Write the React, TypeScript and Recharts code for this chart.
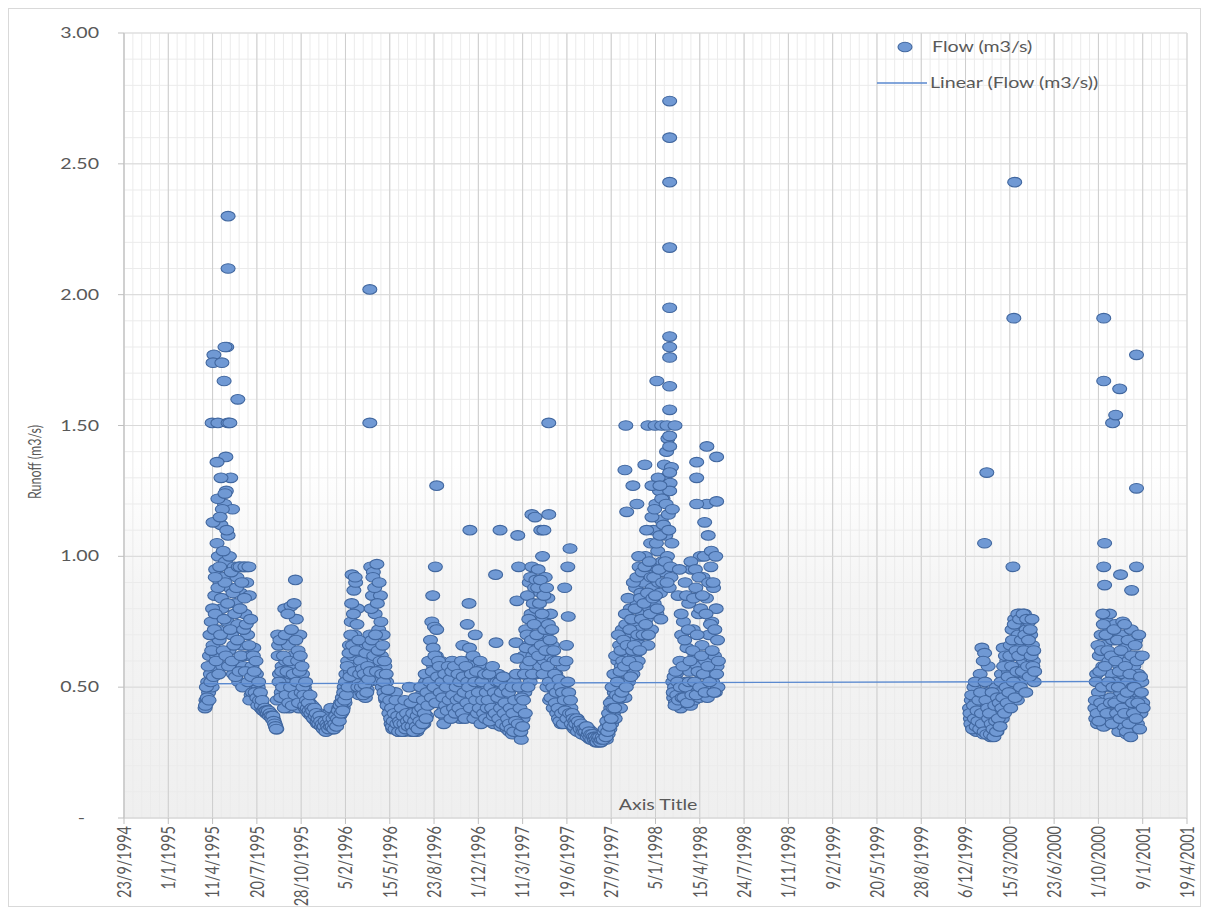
import React from 'react';
import { ScatterChart, Scatter, XAxis, YAxis, CartesianGrid } from 'recharts';

// Day numbers counted from 23/9/1994 (day 0). Two interleaved daily series (every 2nd day each).
const STEP_DAYS = 2;

// Segment 1: continuous record, late March 1995 to mid 1998
const seg1StartA = 183;
const seg1FlowA = [
  0.42, 0.45, 0.44, 0.52, 0.48, 0.62, 0.55, 0.75, 0.50, 0.66, 0.58,
  0.85, 0.95, 0.62, 0.72, 1.00, 0.68, 0.90, 1.12, 0.80, 0.58, 0.92,
  1.20, 0.98, 1.25, 0.75, 1.08, 0.64, 0.88, 1.30, 0.70, 1.18, 0.55,
  0.96, 0.82, 0.60, 0.92, 0.74, 0.52, 0.96, 0.86, 0.66, 0.96, 0.58,
  0.96, 0.78, 0.62, 0.90, 0.70, 0.50, 0.85, 0.62, 0.47, 0.58, 0.46,
  0.65, 0.52, 0.45, 0.55, 0.44, 0.50, 0.43, 0.46, 0.42, 0.44, 0.42,
  0.42, 0.41, 0.42, 0.40, 0.41, 0.40, 0.40, 0.39, 0.40, 0.39, 0.38,
  0.38, 0.37, 0.36, 0.35, 0.34, 0.70, 0.66, 0.55, 0.62, 0.48, 0.58,
  0.45, 0.52, 0.80, 0.60, 0.44, 0.50, 0.66, 0.42, 0.55, 0.81, 0.48,
  0.62, 0.43, 0.58, 0.91, 0.76, 0.50, 0.64, 0.42, 0.70, 0.52, 0.46,
  0.55, 0.44, 0.50, 0.42, 0.48, 0.41, 0.46, 0.40, 0.44, 0.42, 0.39,
  0.43, 0.40, 0.38, 0.41, 0.37, 0.39, 0.36, 0.38, 0.40, 0.36, 0.37,
  0.35, 0.37, 0.34, 0.36, 0.35, 0.38, 0.34, 0.36, 0.40, 0.37, 0.42,
  0.36, 0.34, 0.37, 0.35, 0.38, 0.36, 0.40, 0.37, 0.42, 0.39, 0.44,
  0.40, 0.46, 0.42, 0.50, 0.44, 0.55, 0.48, 0.60, 0.52, 0.66, 0.56,
  0.75, 0.93, 0.62, 0.87, 0.70, 0.90, 0.52, 0.80, 0.58, 0.47, 0.65,
  0.56, 0.48, 0.62, 0.50, 0.58, 0.46, 0.54, 0.49, 0.60, 0.52, 0.70,
  0.96, 0.60, 0.85, 0.94, 0.55, 0.78, 0.66, 0.97, 0.58, 0.72, 0.52,
  0.85, 0.62, 0.50, 0.70, 0.48, 0.58, 0.45, 0.52, 0.44, 0.47, 0.42,
  0.40, 0.36, 0.39, 0.34, 0.38, 0.35, 0.48, 0.37, 0.34, 0.36, 0.33,
  0.38, 0.35, 0.40, 0.34, 0.37, 0.33, 0.39, 0.36, 0.34, 0.38, 0.35,
  0.42, 0.36, 0.33, 0.39, 0.35, 0.41, 0.34, 0.37, 0.33, 0.38, 0.36,
  0.40, 0.35, 0.44, 0.38, 0.48, 0.36, 0.42, 0.52, 0.39, 0.46, 0.55,
  0.45, 0.60, 0.50, 0.75, 0.85, 0.58, 0.73, 0.96, 0.62, 0.48, 0.55,
  0.52, 0.44, 0.60, 0.40, 0.50, 0.56, 0.42, 0.47, 0.38, 0.54, 0.45,
  0.58, 0.41, 0.50, 0.44, 0.60, 0.39, 0.48, 0.55, 0.42, 0.52, 0.40,
  0.46, 0.57, 0.38, 0.50, 0.44, 0.66, 0.42, 0.55, 0.40, 0.48, 0.74,
  0.60, 0.82, 0.45, 0.52, 0.39, 0.58, 0.44, 0.50, 0.70, 0.41, 0.47,
  0.55, 0.38, 0.50, 0.43, 0.58, 0.40, 0.47, 0.37, 0.53, 0.44, 0.39,
  0.50, 0.42, 0.56, 0.38, 0.46, 0.40, 0.52, 0.36, 0.44, 0.93, 0.48,
  0.41, 0.55, 0.38, 0.47, 0.35, 0.43, 0.50, 0.37, 0.45, 0.36, 0.42,
  0.34, 0.40, 0.46, 0.33, 0.38, 0.44, 0.32, 0.37, 0.52, 0.35, 0.67,
  0.83, 0.45, 0.96, 0.32, 0.40, 0.30, 0.55, 0.38, 0.62, 0.48, 0.72,
  0.58, 0.85, 0.66, 0.90, 0.52, 0.78, 0.96, 0.62, 0.70, 0.88, 0.55,
  0.80, 0.65, 0.95, 0.74, 0.58, 0.86, 0.68, 1.00, 0.76, 0.60, 0.92,
  0.70, 0.50, 0.84, 0.62, 0.45, 0.78, 0.56, 0.66, 0.42, 0.60, 0.48,
  0.55, 0.40, 0.50, 0.38, 0.46, 0.44, 0.36, 0.42, 0.58, 0.39, 0.37,
  0.45, 0.66, 0.40, 0.77, 0.38, 0.36, 0.42, 0.37, 0.35, 0.39, 0.34,
  0.37, 0.35, 0.38, 0.34, 0.36, 0.33, 0.35, 0.34, 0.32, 0.35, 0.33,
  0.34, 0.32, 0.33, 0.31, 0.34, 0.32, 0.30, 0.33, 0.31, 0.30, 0.32,
  0.30, 0.29, 0.31, 0.30, 0.29, 0.30, 0.31, 0.29, 0.30, 0.32, 0.30,
  0.31, 0.33, 0.30, 0.35, 0.32, 0.38, 0.34, 0.42, 0.36, 0.45, 0.40,
  0.48, 0.38, 0.55, 0.44, 0.60, 0.50, 0.66, 0.42, 0.58, 0.72, 0.52,
  0.64, 0.46, 0.74, 0.56, 0.68, 0.52, 0.62, 0.80, 0.58, 0.70, 0.55,
  0.75, 0.62, 0.88, 0.68, 0.82, 0.60, 0.96, 0.72, 0.86, 0.66, 0.78,
  0.90, 0.70, 1.00, 0.76, 0.84, 0.66, 0.95, 0.80, 1.05, 0.72, 0.88,
  1.10, 0.82, 0.96, 1.20, 0.78, 1.02, 0.90, 1.25, 0.86, 1.14, 0.98,
  1.22, 0.94, 1.30, 1.08, 1.40, 1.00, 1.16, 0.88, 1.28, 0.92, 1.05,
  0.52, 0.46, 0.50, 0.44, 0.55, 0.48, 0.85, 0.45, 0.60, 0.42, 0.70,
  0.48, 0.75, 0.44, 0.90, 0.52, 0.65, 0.46, 0.82, 0.56, 0.43, 0.95,
  0.50, 0.72, 0.45, 0.62, 0.88, 0.48, 0.58, 0.78, 0.46, 1.00, 0.55,
  0.66, 0.92, 0.50, 1.13, 0.60, 0.84, 0.46, 1.08, 0.70, 0.55, 0.96,
  0.75, 0.52, 0.88, 0.62, 0.48, 0.80, 0.58, 0.50,
];
const seg1StartB = 184;
const seg1FlowB = [
  0.43, 0.50, 0.46, 0.58, 0.45, 0.70, 0.52, 0.64, 0.80, 0.54, 0.72,
  0.78, 0.60, 1.05, 0.88, 0.55, 0.96, 0.70, 0.84, 1.18, 0.64, 0.76,
  0.90, 0.62, 1.10, 0.82, 0.58, 1.00, 0.72, 0.94, 0.60, 0.86, 0.66,
  0.78, 0.54, 0.88, 0.68, 0.96, 0.56, 0.80, 0.62, 0.90, 0.50, 0.72,
  0.84, 0.56, 0.74, 0.96, 0.52, 0.66, 0.45, 0.76, 0.54, 0.48, 0.62,
  0.56, 0.48, 0.60, 0.46, 0.43, 0.52, 0.45, 0.48, 0.43, 0.45, 0.41,
  0.41, 0.42, 0.41, 0.41, 0.40, 0.41, 0.39, 0.40, 0.39, 0.38, 0.39,
  0.37, 0.36, 0.35, 0.34, 0.45, 0.62, 0.52, 0.68, 0.46, 0.56, 0.50,
  0.62, 0.42, 0.70, 0.47, 0.56, 0.78, 0.44, 0.60, 0.50, 0.72, 0.43,
  0.55, 0.82, 0.47, 0.68, 0.52, 0.60, 0.44, 0.56, 0.62, 0.48, 0.58,
  0.50, 0.47, 0.43, 0.52, 0.45, 0.42, 0.44, 0.41, 0.47, 0.40, 0.42,
  0.41, 0.38, 0.42, 0.39, 0.40, 0.37, 0.38, 0.36, 0.39, 0.37, 0.35,
  0.36, 0.34, 0.35, 0.37, 0.33, 0.36, 0.35, 0.34, 0.38, 0.35, 0.36,
  0.35, 0.38, 0.34, 0.36, 0.39, 0.35, 0.38, 0.41, 0.37, 0.43, 0.40,
  0.44, 0.41, 0.48, 0.45, 0.52, 0.47, 0.58, 0.50, 0.63, 0.54, 0.70,
  0.82, 0.66, 0.78, 0.56, 0.92, 0.64, 0.74, 0.50, 0.68, 0.55, 0.60,
  0.50, 0.57, 0.47, 0.55, 0.51, 0.63, 0.48, 0.58, 0.53, 0.66, 0.56,
  0.80, 0.68, 0.92, 0.62, 0.88, 0.70, 0.56, 0.82, 0.64, 0.90, 0.60,
  0.75, 0.55, 0.66, 0.52, 0.60, 0.46, 0.55, 0.43, 0.49, 0.40, 0.45,
  0.38, 0.42, 0.35, 0.37, 0.40, 0.34, 0.45, 0.36, 0.39, 0.33, 0.37,
  0.36, 0.42, 0.33, 0.39, 0.36, 0.45, 0.34, 0.40, 0.37, 0.35, 0.50,
  0.38, 0.44, 0.35, 0.40, 0.33, 0.37, 0.46, 0.35, 0.39, 0.34, 0.41,
  0.37, 0.50, 0.42, 0.36, 0.45, 0.40, 0.55, 0.38, 0.48, 0.43, 0.60,
  0.52, 0.68, 0.46, 0.56, 0.65, 0.50, 0.62, 0.44, 0.72, 0.54, 0.60,
  0.58, 0.48, 0.40, 0.52, 0.46, 0.36, 0.55, 0.43, 0.50, 0.41, 0.58,
  0.45, 0.53, 0.38, 0.56, 0.47, 0.42, 0.58, 0.40, 0.50, 0.45, 0.55,
  0.42, 0.52, 0.46, 0.60, 0.40, 0.54, 0.48, 0.38, 0.58, 0.44, 0.52,
  0.50, 0.65, 0.42, 0.55, 0.47, 0.62, 0.38, 0.52, 0.45, 0.56, 0.40,
  0.48, 0.42, 0.60, 0.36, 0.52, 0.45, 0.40, 0.55, 0.38, 0.48, 0.42,
  0.45, 0.55, 0.37, 0.50, 0.42, 0.58, 0.39, 0.48, 0.40, 0.67, 0.52,
  0.46, 0.38, 0.52, 0.42, 0.48, 0.36, 0.54, 0.40, 0.44, 0.50, 0.35,
  0.38, 0.48, 0.36, 0.42, 0.34, 0.50, 0.40, 0.33, 0.45, 0.37, 0.55,
  0.61, 0.36, 0.50, 0.42, 0.33, 0.46, 0.35, 0.45, 0.55, 0.40, 0.65,
  0.70, 0.50, 0.76, 0.60, 0.92, 0.68, 0.55, 0.82, 0.74, 0.64, 0.91,
  0.70, 0.88, 0.62, 0.82, 0.91, 0.66, 0.78, 0.55, 0.85, 0.72, 0.64,
  0.88, 0.58, 0.74, 0.52, 0.68, 0.46, 0.72, 0.50, 0.64, 0.55, 0.44,
  0.48, 0.60, 0.42, 0.53, 0.37, 0.50, 0.40, 0.48, 0.36, 0.45, 0.41,
  0.60, 0.38, 0.52, 0.48, 0.40, 0.45, 0.36, 0.40, 0.38, 0.35, 0.37,
  0.36, 0.38, 0.33, 0.37, 0.35, 0.34, 0.36, 0.32, 0.34, 0.33, 0.34,
  0.33, 0.35, 0.31, 0.32, 0.33, 0.31, 0.32, 0.30, 0.32, 0.31, 0.30,
  0.31, 0.30, 0.29, 0.31, 0.30, 0.31, 0.29, 0.30, 0.31, 0.30, 0.33,
  0.34, 0.31, 0.37, 0.33, 0.40, 0.35, 0.44, 0.38, 0.50, 0.42, 0.55,
  0.42, 0.62, 0.47, 0.52, 0.70, 0.46, 0.56, 0.64, 0.48, 0.60, 0.68,
  0.58, 0.78, 0.50, 0.66, 0.84, 0.60, 0.72, 0.54, 0.76, 0.64, 0.90,
  0.66, 0.80, 0.58, 0.92, 0.70, 1.00, 0.64, 0.84, 0.76, 0.94, 0.70,
  0.82, 0.96, 0.74, 1.10, 0.86, 0.70, 0.98, 0.78, 0.92, 1.15, 0.84,
  0.92, 1.18, 0.85, 1.05, 0.80, 1.30, 0.95, 1.08, 0.76, 1.22, 0.90,
  1.12, 1.35, 0.98, 1.20, 0.90, 1.45, 1.10, 1.25, 0.96, 1.34, 1.18,
  0.48, 0.54, 0.43, 0.56, 0.47, 0.52, 0.45, 0.95, 0.50, 0.78, 0.46,
  0.58, 0.46, 0.68, 0.50, 0.85, 0.44, 0.72, 0.52, 0.60, 0.98, 0.47,
  0.64, 0.84, 0.52, 0.95, 0.47, 0.70, 0.56, 0.92, 0.50, 0.80, 0.62,
  0.85, 0.55, 1.00, 0.48, 0.78, 1.20, 0.58, 0.90, 0.52, 0.74, 1.02,
  0.64, 0.90, 0.48, 0.72, 1.00, 0.55, 0.68, 0.60,
];

// Segment 2: December 1999 to April 2000
const seg2StartA = 1909;
const seg2FlowA = [
  0.42, 0.38, 0.45, 0.35, 0.40, 0.50, 0.36, 0.44, 0.33, 0.39, 0.47,
  0.37, 0.55, 0.34, 0.65, 0.42, 0.32, 0.63, 0.38, 0.48, 0.35, 0.58,
  0.33, 0.44, 0.31, 0.38, 0.46, 0.32, 0.40, 0.35, 0.50, 0.33, 0.42,
  0.36, 0.48, 0.40, 0.55, 0.38, 0.65, 0.45, 0.52, 0.42, 0.60, 0.47,
  0.56, 0.44, 0.66, 0.50, 0.72, 0.48, 0.62, 0.76, 0.54, 0.68, 0.45,
  0.70, 0.58, 0.78, 0.52, 0.66, 0.74, 0.60, 0.78, 0.55, 0.72, 0.64,
  0.62, 0.75, 0.58, 0.70, 0.55, 0.66, 0.60, 0.52,
];
const seg2StartB = 1910;
const seg2FlowB = [
  0.40, 0.36, 0.47, 0.34, 0.43, 0.38, 0.52, 0.35, 0.41, 0.37, 0.45,
  0.34, 0.48, 0.40, 0.36, 0.60, 0.33, 0.52, 0.45, 0.32, 0.42, 0.38,
  0.40, 0.32, 0.36, 0.48, 0.34, 0.31, 0.43, 0.37, 0.33, 0.46, 0.38,
  0.44, 0.35, 0.52, 0.42, 0.46, 0.58, 0.40, 0.62, 0.50, 0.44, 0.54,
  0.48, 0.62, 0.42, 0.58, 0.68, 0.52, 0.74, 0.46, 0.64, 0.56, 0.78,
  0.62, 0.76, 0.50, 0.68, 0.56, 0.78, 0.64, 0.70, 0.48, 0.76, 0.58,
  0.68, 0.54, 0.72, 0.62, 0.76, 0.58, 0.64, 0.56,
];

// Segment 3: October 2000 to January 2001
const seg3StartA = 2192;
const seg3FlowA = [
  0.42, 0.38, 0.55, 0.36, 0.48, 0.62, 0.40, 0.70, 0.45, 0.58, 0.35,
  0.66, 0.44, 0.75, 0.50, 0.38, 0.60, 0.72, 0.46, 0.55, 0.68, 0.40,
  0.52, 0.74, 0.36, 0.62, 0.45, 0.33, 0.58, 0.48, 0.70, 0.38, 0.55,
  0.35, 0.65, 0.42, 0.32, 0.52, 0.60, 0.38, 0.46, 0.72, 0.34, 0.50,
  0.58, 0.42, 0.68, 0.48, 0.36, 0.55, 0.62, 0.45, 0.40, 0.52, 0.44,
];
const seg3StartB = 2193;
const seg3FlowB = [
  0.45, 0.52, 0.40, 0.66, 0.37, 0.56, 0.44, 0.64, 0.50, 0.74, 0.42,
  0.58, 0.70, 0.40, 0.64, 0.52, 0.78, 0.44, 0.62, 0.36, 0.50, 0.72,
  0.44, 0.60, 0.40, 0.68, 0.50, 0.56, 0.38, 0.64, 0.42, 0.75, 0.46,
  0.40, 0.58, 0.33, 0.48, 0.68, 0.36, 0.55, 0.31, 0.62, 0.44, 0.40,
  0.50, 0.66, 0.38, 0.60, 0.44, 0.70, 0.34, 0.54, 0.48, 0.62, 0.42,
];

// Flood peaks (day, flow)
const peakDays = [
  235, 235, 232, 228, 203, 201, 221, 226, 257, 199, 212, 235, 239, 230, 210, 219, 212, 228, 201, 217, 262, 273, 282, 224, 206,
  555, 555,
  706, 781, 849, 889, 921, 928, 941, 959, 959, 948, 1007, 1002, 995,
  1133, 1131, 1135, 1158, 1149, 1183, 1192, 1199, 1214, 1226, 1244,
  1232, 1232, 1232, 1232, 1232, 1232, 1232, 1232, 1232, 1232, 1232, 1232, 1232,
  1203, 1210, 1293, 1293, 1293, 1316, 1338, 1338, 1176,
  1943, 1948, 2007, 2009, 2011,
  2212, 2212, 2214, 2212, 2214, 2210, 2232, 2239, 2248, 2250, 2275, 2286, 2286, 2286, 2259,
];
const peakFlows = [
  2.30, 2.10, 1.80, 1.80, 1.77, 1.74, 1.74, 1.67, 1.60, 1.51, 1.51, 1.51, 1.51, 1.38, 1.36, 1.30, 1.22, 1.24, 1.13, 1.15, 0.96, 0.96, 0.96, 1.02, 0.92,
  2.02, 1.51,
  1.27, 1.10, 1.10, 1.08, 1.16, 1.15, 1.10, 1.16, 1.51, 1.10, 1.03, 0.96, 0.88,
  1.50, 1.33, 1.17, 1.20, 1.27, 1.50, 1.27, 1.50, 1.50, 1.50, 1.50,
  2.74, 2.60, 2.43, 2.18, 1.95, 1.84, 1.80, 1.76, 1.65, 1.56, 1.46, 1.42, 1.32,
  1.67, 1.27, 1.36, 1.30, 1.20, 1.42, 1.38, 1.21, 1.35,
  1.05, 1.32, 0.96, 1.91, 2.43,
  1.91, 1.67, 1.05, 0.96, 0.89, 0.78, 1.51, 1.54, 1.64, 0.93, 0.87, 1.77, 1.26, 0.96, 0.74,
];

// Linear trend (Excel) end points
const trendDays = [183, 2300];
const trendFlows = [0.513, 0.522];

const xTickDays = [0, 100, 200, 300, 400, 500, 600, 700, 800, 900, 1000, 1100, 1200, 1300, 1400, 1500, 1600, 1700, 1800, 1900, 2000, 2100, 2200, 2300, 2400];
const xTickLabels = [
  '23/9/1994', '1/1/1995', '11/4/1995', '20/7/1995', '28/10/1995', '5/2/1996', '15/5/1996', '23/8/1996',
  '1/12/1996', '11/3/1997', '19/6/1997', '27/9/1997', '5/1/1998', '15/4/1998', '24/7/1998', '1/11/1998',
  '9/2/1999', '20/5/1999', '28/8/1999', '6/12/1999', '15/3/2000', '23/6/2000', '1/10/2000', '9/1/2001', '19/4/2001',
];
const yTicks = [0, 0.5, 1, 1.5, 2, 2.5, 3];
const yTickLabels = ['-', '0.50', '1.00', '1.50', '2.00', '2.50', '3.00'];

const xMinorTicks: number[] = [];
for (let d = 0; d <= 2400; d += 20) xMinorTicks.push(d);
const yMinorTicks: number[] = [];
for (let i = 0; i <= 30; i++) yMinorTicks.push(i / 10);

const toPoints = (start: number, flows: number[]) => flows.map((v, i) => ({ day: start + i * STEP_DAYS, flow: v }));

const flowData = [
  ...toPoints(seg1StartA, seg1FlowA),
  ...toPoints(seg1StartB, seg1FlowB),
  ...toPoints(seg2StartA, seg2FlowA),
  ...toPoints(seg2StartB, seg2FlowB),
  ...toPoints(seg3StartA, seg3FlowA),
  ...toPoints(seg3StartB, seg3FlowB),
  ...peakDays.map((d, i) => ({ day: d, flow: peakFlows[i] })),
];
const trendData = trendDays.map((d, i) => ({ day: d, flow: trendFlows[i] }));

const TEXT = '#595959';
const FONT = 'Lato, "Liberation Sans", sans-serif';
const SX = 1.35;
const MARK_FILL = '#7099d4';
const MARK_STROKE = '#41679f';
const TREND = '#5a89cf';

const Marker = (props: any) => {
  const { cx, cy } = props;
  if (cx == null || cy == null) return <g />;
  return <ellipse cx={cx} cy={cy} rx={7} ry={4.8} fill={MARK_FILL} stroke={MARK_STROKE} strokeWidth={1.1} />;
};

const NoMark = () => <g />;

const XTick = (props: any) => {
  const { x, y, payload } = props;
  const idx = xTickDays.indexOf(payload.value);
  const label = idx >= 0 ? xTickLabels[idx] : '';
  return (
    <g transform={`translate(${x},${y}) scale(${SX},1)`}>
      <text x={0} y={0} dy="0.35em" transform="rotate(-90)" textAnchor="end" fill={TEXT} fontSize={14.5} fontFamily={FONT}>
        {label}
      </text>
    </g>
  );
};

const YTick = (props: any) => {
  const { x, y, payload } = props;
  const idx = yTicks.indexOf(payload.value);
  const label = idx >= 0 ? yTickLabels[idx] : '';
  const shift = label === '-' ? -14 : 0;
  return (
    <g transform={`translate(${x + shift},${y}) scale(${SX},1)`}>
      <text x={0} y={0} dy="0.35em" textAnchor="end" fill={TEXT} fontSize={14.5} fontFamily={FONT}>
        {label}
      </text>
    </g>
  );
};

export default function App() {
  return (
    <div
      style={{
        position: 'relative',
        width: 1193,
        height: 899,
        border: '1px solid #d9d9d9',
        boxSizing: 'border-box',
        background: '#ffffff',
      }}
    >
      <ScatterChart width={1191} height={897} margin={{ top: 24, right: 13, bottom: 18, left: 55 }}>
        <defs>
          <linearGradient id="plotBg" x1="0" y1="0" x2="0" y2="1">
            <stop offset="0%" stopColor="#ffffff" />
            <stop offset="55%" stopColor="#ffffff" />
            <stop offset="72%" stopColor="#f4f4f4" />
            <stop offset="100%" stopColor="#efefef" />
          </linearGradient>
        </defs>
        <XAxis xAxisId="minor" type="number" dataKey="day" domain={[0, 2400]} ticks={xMinorTicks} interval={0} hide allowDataOverflow />
        <YAxis yAxisId="minor" type="number" dataKey="flow" domain={[0, 3]} ticks={yMinorTicks} interval={0} hide allowDataOverflow />
        <CartesianGrid xAxisId="minor" yAxisId="minor" fill="url(#plotBg)" fillOpacity={1} stroke="#ebebeb" strokeWidth={1} />
        <CartesianGrid horizontal={false} stroke="#cdcdcd" strokeWidth={1} />
        <CartesianGrid vertical={false} stroke="#d9d9d9" strokeWidth={1} />
        <XAxis
          type="number"
          dataKey="day"
          domain={[0, 2400]}
          ticks={xTickDays}
          interval={0}
          allowDataOverflow
          height={70}
          tickSize={6}
          tickMargin={2}
          tick={<XTick />}
          tickLine={{ stroke: '#bfbfbf' }}
          axisLine={{ stroke: '#d9d9d9' }}
        />
        <YAxis
          type="number"
          dataKey="flow"
          domain={[0, 3]}
          ticks={yTicks}
          interval={0}
          allowDataOverflow
          width={60}
          tickSize={6}
          tickMargin={19}
          tick={<YTick />}
          tickLine={{ stroke: '#bfbfbf' }}
          axisLine={{ stroke: '#bfbfbf' }}
        />
        <Scatter data={flowData} shape={<Marker />} isAnimationActive={false} />
        <Scatter
          data={trendData}
          shape={<NoMark />}
          line={{ stroke: TREND, strokeWidth: 1.4 }}
          lineType="joint"
          isAnimationActive={false}
        />
      </ScatterChart>
      <svg
        width={1191}
        height={897}
        style={{ position: 'absolute', left: 0, top: 0, pointerEvents: 'none' }}
      >
        <ellipse cx={896} cy={38} rx={7} ry={4.8} fill={MARK_FILL} stroke={MARK_STROKE} strokeWidth={1.1} />
        <g transform={`translate(923,38) scale(${SX},1)`}>
          <text x={0} y={0} dy="0.35em" fill={TEXT} fontSize={14.5} fontFamily={FONT}>Flow (m3/s)</text>
        </g>
        <line x1={868} y1={74} x2={918} y2={74} stroke={TREND} strokeWidth={1.4} />
        <g transform={`translate(921,74) scale(${SX},1)`}>
          <text x={0} y={0} dy="0.35em" fill={TEXT} fontSize={14.5} fontFamily={FONT}>Linear (Flow (m3/s))</text>
        </g>
        <g transform={`translate(649,796) scale(${SX},1)`}>
          <text x={0} y={0} dy="0.35em" textAnchor="middle" fill={TEXT} fontSize={14.5} fontFamily={FONT}>Axis Title</text>
        </g>
        <g transform={`translate(26,453) scale(${SX},1)`}>
          <text x={0} y={0} dy="0.35em" transform="rotate(-90)" textAnchor="middle" fill={TEXT} fontSize={12.5} fontFamily={FONT}>Runoff (m3/s)</text>
        </g>
      </svg>
    </div>
  );
}
